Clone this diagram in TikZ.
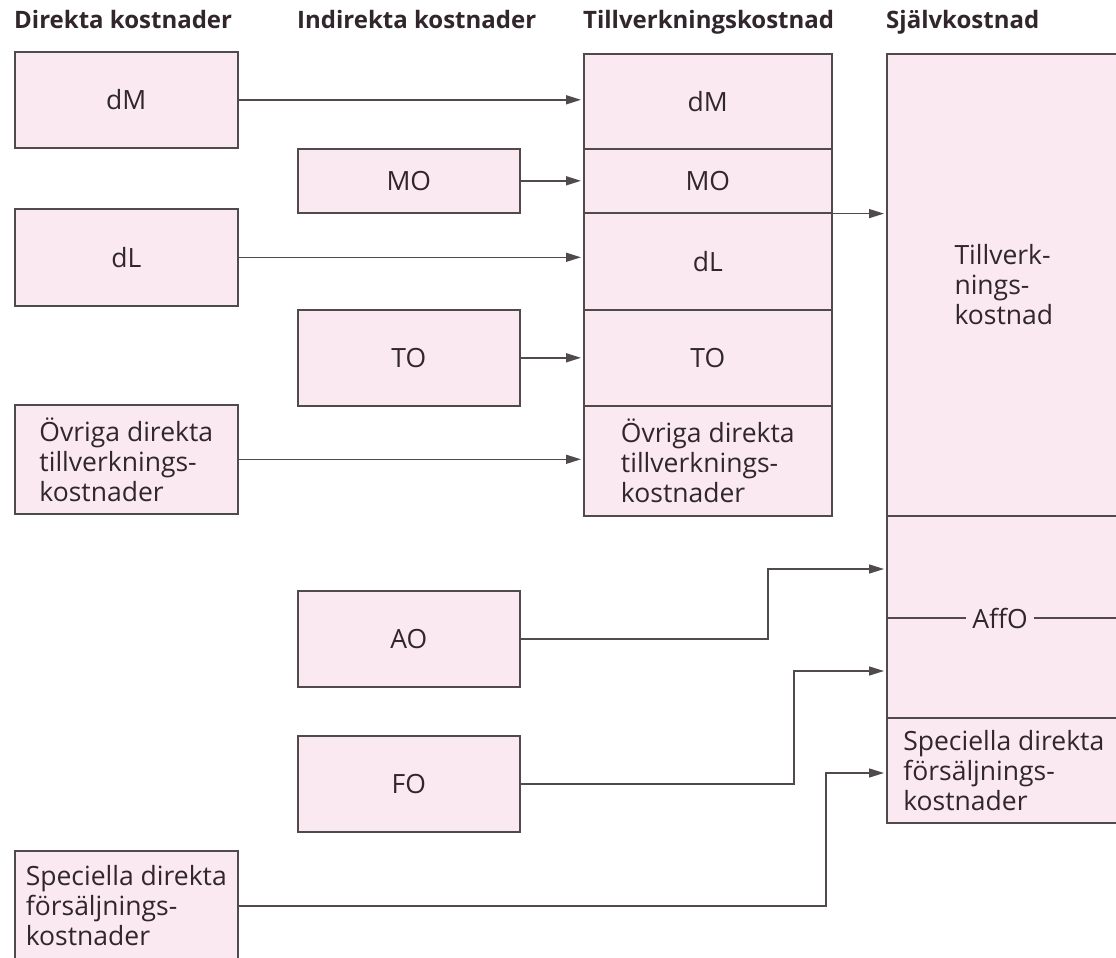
\documentclass[tikz,border=0pt]{standalone}
\usepackage{fontspec}
\setmainfont{Open Sans}
\usetikzlibrary{arrows.meta}
\definecolor{boxfill}{RGB}{250,233,241}
\definecolor{edge}{RGB}{80,74,77}
\definecolor{ink}{RGB}{48,38,43}
\newcommand\diagbody{\fontsize{26.5}{30}\selectfont}
\newcommand\diaghead{\fontsize{24}{29}\selectfont\bfseries}
\begin{document}
\begin{tikzpicture}[x=1pt,y=1pt,
  box/.style={draw=edge, line width=1.6pt, fill=boxfill, rectangle,
    anchor=north west, inner sep=0pt, text=ink, font=\diagbody, align=left},
  head/.style={anchor=base west, inner sep=0pt, text=ink, font=\diaghead},
  link/.style={draw=edge, line width=1.5pt,
    -{Triangle[length=15pt,width=9pt]}, shorten >=2pt},
  plain/.style={draw=edge, line width=1.5pt}]
\useasboundingbox (0,0) rectangle (1116,-958);
\clip (0,0) rectangle (1116,-958);

% column headings
\node[head] (hD) at (14,-29)  {Direkta kostnader};
\node[head] (hI) at (297,-29) {Indirekta kostnader};
\node[head] (hT) at (583,-29) {Tillverkningskostnad};
\node[head] (hS) at (886,-29) {Självkostnad};

% direct costs
\node[box, minimum width=223pt, minimum height=96pt]  (LdM) at (14,-51)  {dM};
\node[box, minimum width=223pt, minimum height=97pt]  (LdL) at (14,-208) {dL};
\node[box, minimum width=223pt, minimum height=109pt] (LOv) at (14,-404)
  {Övriga direkta\\tillverknings-\\kostnader};
\node[box, minimum width=223pt, minimum height=110pt] (LSp) at (14,-850)
  {Speciella direkta\\försäljnings-\\kostnader};

% indirect costs
\node[box, minimum width=222pt, minimum height=64pt] (IMO) at (297,-148) {MO};
\node[box, minimum width=222pt, minimum height=96pt] (ITO) at (297,-309) {TO};
\node[box, minimum width=222pt, minimum height=96pt] (IAO) at (297,-590) {AO};
\node[box, minimum width=222pt, minimum height=96pt] (IFO) at (297,-735) {FO};

% manufacturing cost stack
\node[box, minimum width=248pt, minimum height=95pt]  (TdM) at (583,-53)  {dM};
\node[box, minimum width=248pt, minimum height=64pt]  (TMO) at (583,-148) {MO};
\node[box, minimum width=248pt, minimum height=97pt]  (TdL) at (583,-212) {dL};
\node[box, minimum width=248pt, minimum height=96pt]  (TTO) at (583,-309) {TO};
\node[box, minimum width=248pt, minimum height=110pt] (TOv) at (583,-405)
  {Övriga direkta\\tillverknings-\\kostnader};

% full cost stack
\node[box, minimum width=234pt, minimum height=462pt] (SKtill) at (886,-53)
  {Tillverk-\\nings-\\kostnad};
\node[box, minimum width=234pt, minimum height=202pt] (SKaff) at (886,-515) {};
\node[box, minimum width=234pt, minimum height=105pt] (SKsp) at (886,-717)
  {Speciella direkta\\försäljnings-\\kostnader};
\node[text=ink, font=\diagbody, inner sep=6pt] (affo) at (1000,-618) {AffO};
\draw[plain] (SKaff.west |- affo) -- (affo.west);
\draw[plain] (affo.east) -- (SKaff.east |- affo);

% bend points of the routed connectors
\coordinate (aoUp) at (768,-569);
\coordinate (foUp) at (794,-671);
\coordinate (spUp) at (826,-773);

% connectors
\draw[link] (LdM.east) -- (LdM.east -| TdM.west);
\draw[link] (IMO.east) -- (IMO.east -| TMO.west);
\draw[link] (LdL.east) -- (LdL.east -| TdL.west);
\draw[link] (ITO.east) -- (ITO.east -| TTO.west);
\draw[link] (LOv.east) -- (LOv.east -| TOv.west);
\draw[link] (TMO.south east) -- (TMO.south east -| SKtill.west);
\draw[link] (IAO.east) -| (aoUp) -- (aoUp -| SKaff.west);
\draw[link] (IFO.east) -| (foUp) -- (foUp -| SKaff.west);
\draw[link] (LSp.east) -| (spUp) -- (spUp -| SKsp.west);
\end{tikzpicture}
\end{document}
